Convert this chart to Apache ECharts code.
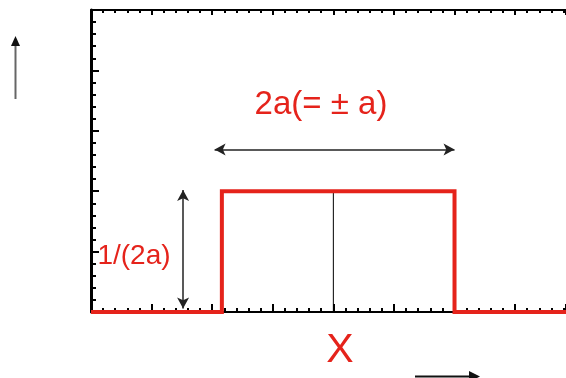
<!DOCTYPE html>
<html>
<head>
<meta charset="utf-8">
<script src="https://cdn.jsdelivr.net/npm/echarts@6/dist/echarts.min.js"></script>
<style>html,body{margin:0;padding:0;background:#fff;overflow:hidden}#c{width:566px;height:378px}</style>
</head>
<body>
<div id="c"></div>
<script>
// Data (in minor-tick units)
const xRange = [0, 39.2];
const yRange = [0, 25];
const pulseX = [0, 10.8, 10.8, 30, 30, 39.2];
const pulseY = [0, 0, 10, 10, 0, 0];
const centerX = [20, 20];
const centerY = [0, 10];
const widthArrow = { x: [10.2, 30], y: 13.45 };
const heightArrow = { x: 7.6, y: [0.3, 10.1] };
const labels = { width: '2a(= \u00b1 a)', height: '1/(2a)', axis: 'X' };

const RED = '#e5231b';
const chart = echarts.init(document.getElementById('c'), null, { renderer: 'canvas' });

function pts(xs, ys) { return xs.map((x, i) => [x, ys[i]]); }

function xAx(pos, interval, len, showLine) {
  return {
    type: 'value', min: xRange[0], max: xRange[1], interval: interval, position: pos,
    axisLabel: { show: false }, splitLine: { show: false },
    axisLine: { show: showLine, onZero: false, lineStyle: { color: '#000', width: 2 } },
    axisTick: { show: true, inside: true, length: len, lineStyle: { color: '#000', width: 2 } }
  };
}

chart.setOption({
  animation: false,
  backgroundColor: '#fff',
  grid: { left: 91, top: 10, right: 0, bottom: 66, containLabel: false },
  xAxis: [
    xAx('bottom', 5, 8, true),
    xAx('bottom', 1, 4, false),
    xAx('top', 5, 5, true),
    xAx('top', 1, 3, false)
  ],
  yAxis: {
    type: 'value', min: yRange[0], max: yRange[1], interval: 5,
    axisLabel: { show: false }, splitLine: { show: false },
    axisLine: { show: true, onZero: false, lineStyle: { color: '#000', width: 3 } },
    axisTick: { show: true, inside: true, length: 8, lineStyle: { color: '#000', width: 2 } },
    minorTick: { show: true, splitNumber: 5, length: 5, lineStyle: { color: '#000', width: 2 } }
  },
  series: [
    {
      type: 'line', data: pts(centerX, centerY), symbol: 'none',
      lineStyle: { color: '#000', width: 1 }, z: 3
    },
    {
      type: 'line', data: pts(pulseX, pulseY), symbol: 'none',
      lineStyle: { color: RED, width: 4, join: 'miter' }, z: 4,
      markLine: {
        silent: true, symbol: ['arrow', 'arrow'], symbolSize: [9, 11],
        label: { show: false },
        lineStyle: { color: '#222', width: 1.5, type: 'solid' },
        data: [
          [{ coord: [widthArrow.x[0], widthArrow.y] }, { coord: [widthArrow.x[1], widthArrow.y] }],
          [{ coord: [heightArrow.x, heightArrow.y[0]] }, { coord: [heightArrow.x, heightArrow.y[1]] }]
        ]
      }
    }
  ],
  graphic: [
    { type: 'line', shape: { x1: 15.5, y1: 99, x2: 15.5, y2: 43 }, style: { stroke: '#666', lineWidth: 2 } },
    { type: 'polygon', shape: { points: [[15.5, 36], [11, 46], [20, 46]] }, style: { fill: '#111' } },
    { type: 'line', shape: { x1: 415, y1: 376.5, x2: 471, y2: 376.5 }, style: { stroke: '#111', lineWidth: 2 } },
    { type: 'polygon', shape: { points: [[480, 376.5], [469, 371], [469, 382]] }, style: { fill: '#111' } },
    { type: 'text', x: 321, y: 105, style: { text: labels.width, fill: RED, font: '33px "Liberation Sans", Arial, sans-serif', align: 'center', verticalAlign: 'middle' } },
    { type: 'text', x: 134, y: 256, style: { text: labels.height, fill: RED, font: '28px "Liberation Sans", Arial, sans-serif', align: 'center', verticalAlign: 'middle' } },
    { type: 'text', x: 340, y: 351, style: { text: labels.axis, fill: RED, font: '41px "Liberation Sans", Arial, sans-serif', align: 'center', verticalAlign: 'middle' } }
  ]
});
</script>
</body>
</html>
